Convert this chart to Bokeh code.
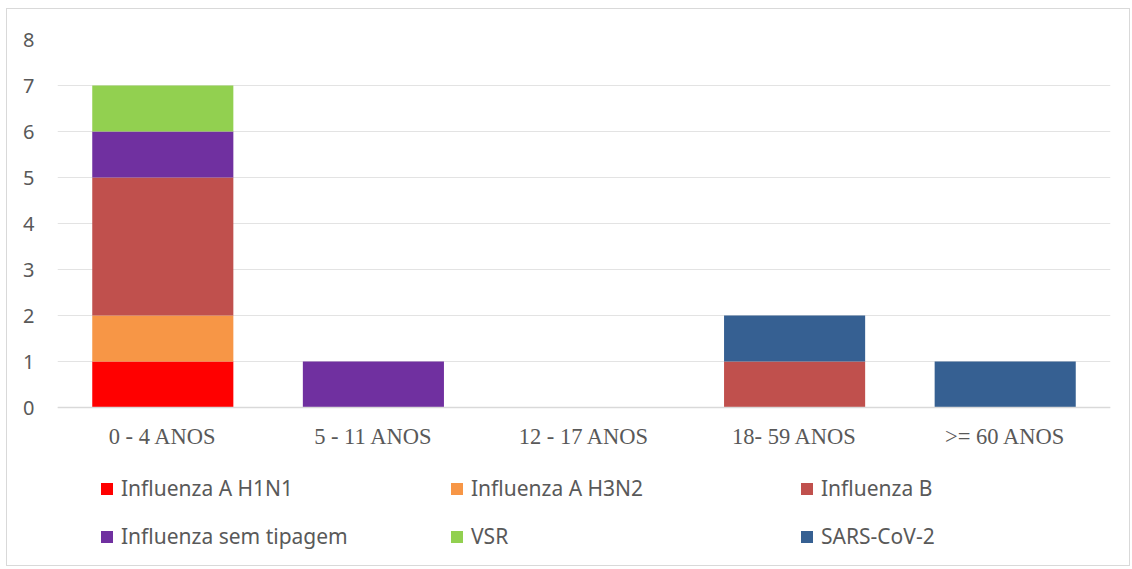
from bokeh.plotting import figure
from bokeh.models import FactorRange, Range1d, Legend, LegendItem, FixedTicker
from bokeh.embed import file_html
from bokeh.resources import INLINE

categories = ["0 - 4 ANOS", "5 - 11 ANOS", "12 - 17 ANOS", "18- 59 ANOS", ">= 60 ANOS"]
series_names = ["Influenza A H1N1", "Influenza A H3N2", "Influenza B",
                "Influenza sem tipagem", "VSR", "SARS-CoV-2"]
h1n1 = [1, 0, 0, 0, 0]
h3n2 = [1, 0, 0, 0, 0]
flu_b = [3, 0, 0, 1, 0]
sem_tipagem = [1, 1, 0, 0, 0]
vsr = [1, 0, 0, 0, 0]
sars = [0, 0, 0, 1, 1]
colors = ["#FF0000", "#F79646", "#C0504D", "#7030A0", "#92D050", "#366092"]
y_ticks = [0, 1, 2, 3, 4, 5, 6, 7, 8]

keys = ["h1n1", "h3n2", "flu_b", "sem_tipagem", "vsr", "sars"]
data = dict(cat=categories, h1n1=h1n1, h3n2=h3n2, flu_b=flu_b,
            sem_tipagem=sem_tipagem, vsr=vsr, sars=sars)

# layout: plot area 368 px tall for 0..8; frame extends below to hold the legend
FRAME_H = 525
PLOT_H = 368
y_top = max(y_ticks)
y_bottom = y_top - y_top * FRAME_H / PLOT_H

p = figure(width=1124, height=558, output_backend="svg", toolbar_location=None,
           x_range=FactorRange(*categories, range_padding=0),
           y_range=Range1d(y_bottom, y_top),
           min_border_left=50, min_border_right=21, min_border_top=30, min_border_bottom=3)

renderers = p.vbar_stack(keys, x="cat", width=0.67, color=colors, source=data,
                         line_color=None)

p.outline_line_color = None
p.background_fill_color = "white"
p.border_fill_color = "white"
p.styles = {"border": "1px solid #D9D9D9", "box-sizing": "border-box",
            "margin-left": "6px", "margin-top": "8px"}

p.yaxis.ticker = FixedTicker(ticks=y_ticks)
p.yaxis.axis_line_color = None
p.yaxis.major_tick_line_color = None
p.yaxis.minor_tick_line_color = None
p.yaxis.major_label_text_font = "Noto Sans"
p.yaxis.major_label_text_font_size = "20px"
p.yaxis.major_label_text_color = "#595959"
p.yaxis.major_label_standoff = 17

p.xaxis.fixed_location = 0
p.xaxis.axis_line_color = "#D9D9D9"
p.xaxis.axis_line_width = 1.5
p.xaxis.major_tick_line_color = None
p.xaxis.minor_tick_line_color = None
p.xaxis.major_label_text_font = "Liberation Serif"
p.xaxis.major_label_text_font_size = "22.5px"
p.xaxis.major_label_text_color = "#595959"
p.xaxis.major_label_standoff = 10

p.xgrid.grid_line_color = None
p.ygrid.grid_line_color = "#E3E3E3"
p.ygrid.grid_line_width = 1

items = [LegendItem(label=n, renderers=[r]) for n, r in zip(series_names, renderers)]
legend = Legend(items=items, orientation="horizontal", ncols=3,
                glyph_width=15, glyph_height=15, label_standoff=7,
                label_width=308, label_height=15, spacing=20,
                label_text_font="Noto Sans",
                label_text_font_size="21px", label_text_color="#595959",
                border_line_color=None, background_fill_alpha=0,
                margin=0, padding=0, location=(42, 14))
p.add_layout(legend, "center")

open("out.html", "w").write(file_html(p, INLINE))
